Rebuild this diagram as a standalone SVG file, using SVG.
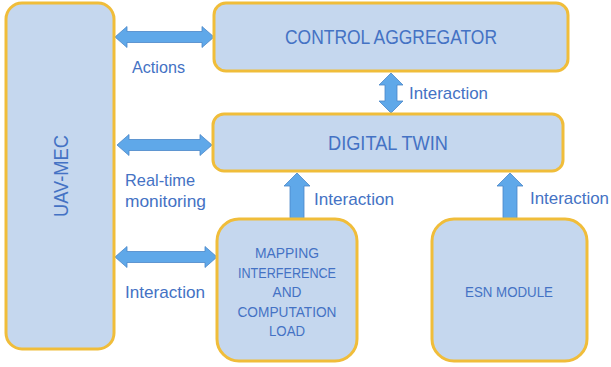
<svg xmlns="http://www.w3.org/2000/svg" width="611" height="367" viewBox="0 0 611 367">
  <style>
    .box { fill: #c5d7ee; stroke: #f0bd3a; stroke-width: 3; }
    .arrow { fill: #5fa8e9; stroke: #4a86c8; stroke-width: 0.8; }
    .title { font-family: "Liberation Sans", Arial, sans-serif; fill: #4472c4; text-anchor: middle; dominant-baseline: central; }
    .label { font-family: "Liberation Sans", Arial, sans-serif; font-size: 17px; fill: #4472c4; dominant-baseline: central; }
  </style>

  <rect width="611" height="367" fill="#ffffff"/>

  <g id="connectors">
    <!-- UAV-MEC <-> Control Aggregator -->
    <path class="arrow" d="M115,37 L127,26.5 L127,31.5 L202,31.5 L202,26.5 L214,37 L202,47.5 L202,42.5 L127,42.5 L127,47.5 Z"/>
    <!-- UAV-MEC <-> Digital Twin -->
    <path class="arrow" d="M117,145 L129,134.5 L129,139.5 L200,139.5 L200,134.5 L212,145 L200,155.5 L200,150.5 L129,150.5 L129,155.5 Z"/>
    <!-- UAV-MEC <-> Mapping -->
    <path class="arrow" d="M115,257 L127,246.5 L127,251.5 L205,251.5 L205,246.5 L217,257 L205,267.5 L205,262.5 L127,262.5 L127,267.5 Z"/>
    <!-- Control Aggregator <-> Digital Twin -->
    <path class="arrow" d="M391,73 L403,85 L397,85 L397,101 L403,101 L391,113 L379,101 L385,101 L385,85 L379,85 Z"/>
    <!-- Mapping -> Digital Twin -->
    <path class="arrow" d="M297,173 L310,186 L304,186 L304,219 L290,219 L290,186 L284,186 Z"/>
    <!-- ESN Module -> Digital Twin -->
    <path class="arrow" d="M510,173 L523,186 L517,186 L517,219 L503,219 L503,186 L497,186 Z"/>

    <text class="label" x="132" y="67" textLength="53" lengthAdjust="spacingAndGlyphs">Actions</text>
    <text class="label" x="125" y="180" textLength="70" lengthAdjust="spacingAndGlyphs">Real-time</text>
    <text class="label" x="125" y="201" textLength="81" lengthAdjust="spacingAndGlyphs">monitoring</text>
    <text class="label" x="125" y="292" textLength="80" lengthAdjust="spacingAndGlyphs">Interaction</text>
    <text class="label" x="409" y="93" textLength="79" lengthAdjust="spacingAndGlyphs">Interaction</text>
    <text class="label" x="314" y="199" textLength="80" lengthAdjust="spacingAndGlyphs">Interaction</text>
    <text class="label" x="530" y="198" textLength="79" lengthAdjust="spacingAndGlyphs">Interaction</text>
  </g>

  <g id="uav-mec">
    <rect class="box" x="6" y="3" width="108" height="346" rx="16"/>
    <text class="title" font-size="20" transform="translate(61,176) rotate(-90)" textLength="82" lengthAdjust="spacingAndGlyphs">UAV-MEC</text>
  </g>

  <g id="control-aggregator">
    <rect class="box" x="214" y="3" width="354" height="68" rx="12"/>
    <text class="title" font-size="19.5" x="391" y="37" textLength="212" lengthAdjust="spacingAndGlyphs">CONTROL AGGREGATOR</text>
  </g>

  <g id="digital-twin">
    <rect class="box" x="213" y="114" width="350" height="57" rx="11"/>
    <text class="title" font-size="19.5" x="388" y="143" textLength="120" lengthAdjust="spacingAndGlyphs">DIGITAL TWIN</text>
  </g>

  <g id="mapping">
    <rect class="box" x="217" y="219" width="140" height="142" rx="22"/>
    <text class="title" font-size="14" x="287" y="253" textLength="64" lengthAdjust="spacingAndGlyphs">MAPPING</text>
    <text class="title" font-size="14" x="287" y="272.5" textLength="98" lengthAdjust="spacingAndGlyphs">INTERFERENCE</text>
    <text class="title" font-size="14" x="287" y="292" textLength="29" lengthAdjust="spacingAndGlyphs">AND</text>
    <text class="title" font-size="14" x="287" y="311.5" textLength="99" lengthAdjust="spacingAndGlyphs">COMPUTATION</text>
    <text class="title" font-size="14" x="287" y="331" textLength="36" lengthAdjust="spacingAndGlyphs">LOAD</text>
  </g>

  <g id="esn-module">
    <rect class="box" x="432" y="219" width="155" height="142" rx="22"/>
    <text class="title" font-size="14" x="509" y="292" textLength="88" lengthAdjust="spacingAndGlyphs">ESN MODULE</text>
  </g>
</svg>
